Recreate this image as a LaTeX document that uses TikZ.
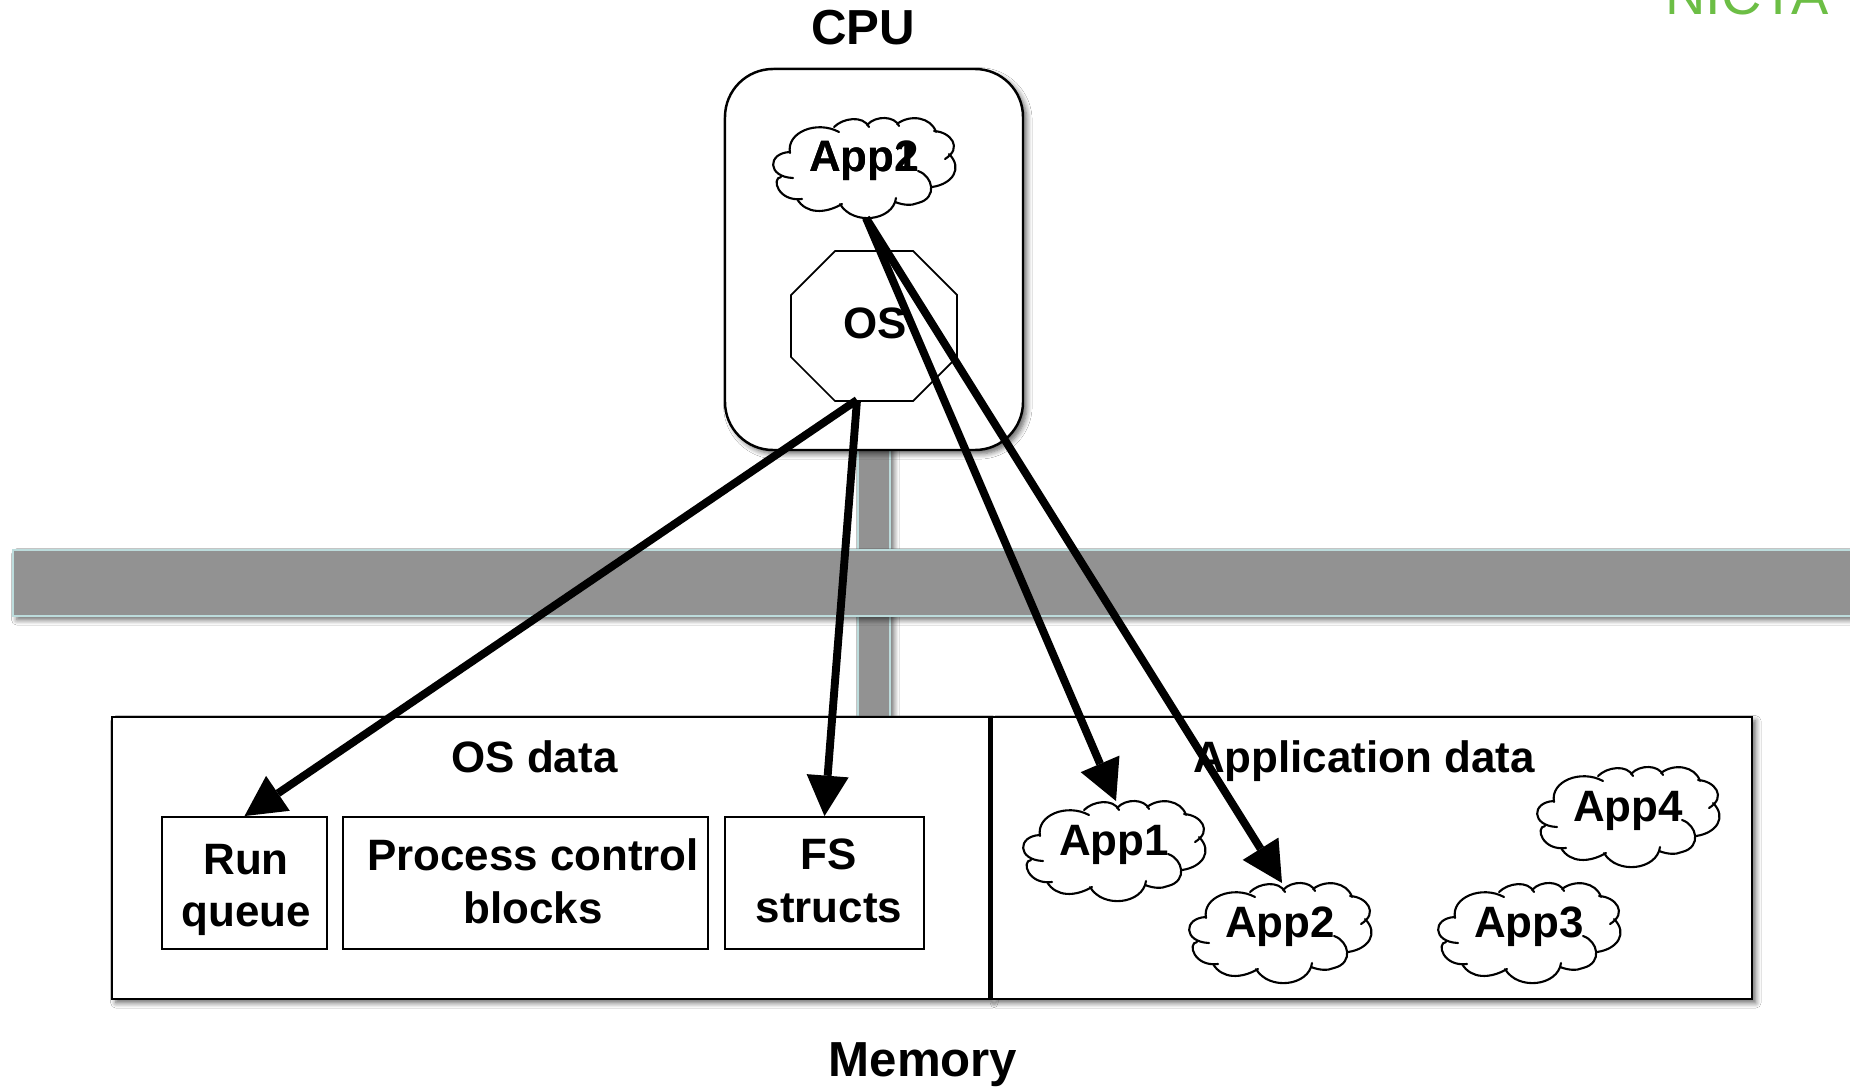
\documentclass[tikz,border=0pt]{standalone}
\usepackage{fontspec}
\setmainfont{Liberation Sans}
\usetikzlibrary{arrows.meta,shadows.blur}
\definecolor{busgrey}{HTML}{929292}
\definecolor{busedge}{HTML}{BCDCDC}
\definecolor{nictagreen}{HTML}{6CBE45}
\tikzset{
  softshadow/.style={blur shadow={shadow xshift=2.2pt,shadow yshift=-2.2pt,shadow blur steps=6,shadow blur radius=3pt,shadow opacity=60}},
  bustrack/.style={fill=busgrey,draw=busedge,line width=1.2pt,softshadow},
  membox/.style={draw,fill=white,line width=1.4pt,softshadow,inner sep=0pt},
  innerbox/.style={draw,line width=1.1pt,inner sep=0pt},
  biglabel/.style={font=\fontsize{28}{33}\selectfont\bfseries,anchor=base},
  smalllabel/.style={font=\fontsize{25}{30}\selectfont\bfseries,align=center},
  pointer/.style={line width=4.5pt,-{Triangle[length=23pt,width=24pt,fill=black,line width=0pt]}},
}
\newcommand{\appcloud}[4]{
\begin{scope}[shift={(#2,#3)}]
\draw[line width=1.2pt,line cap=round]
  (20,60) .. controls (-6,59) and (-6,35) .. (17,34)
  (17,35) .. controls (13,14) and (44,2) .. (66,14)
  (61,9) .. controls (70,0) and (90,-3) .. (96,9)
  (94,7) .. controls (103,-3) and (122,-2) .. (126,8)
  (124,6) .. controls (137,-4) and (158,-1) .. (163,14)
  (161,13) .. controls (178,14) and (190,30) .. (172,41)
  (176,36) .. controls (190,50) and (180,66) .. (159,69)
  (145,53) .. controls (160,58) and (165,80) .. (145,85)
  (145,85) .. controls (138,88) and (130,87) .. (122,84)
  (123,80) .. controls (120,103) and (80,108) .. (67,86)
  (69,86) .. controls (52,96) and (33,96) .. (24,81)
  (29,81) .. controls (5,84) and (-2,60) .. (8,59);
\coordinate (#1top) at (93,0);
\coordinate (#1bot) at (93,100);
\node[smalllabel,anchor=base] (#1) at (91,54) {#4};
\end{scope}
}
\begin{document}
\begin{tikzpicture}[x=0.02cm,y=-0.02cm]
\useasboundingbox (0,0) rectangle (1850,1088);
\clip (0,0) rectangle (1850,1088);
%\draw[step=100,gray,very thin] (0,0) grid (1850,1088);
\fill[white] (0,0) rectangle (1850,1088);
\node[anchor=base,text=nictagreen,font=\fontsize{31.8}{36}\selectfont] (nicta) at (1747,14.5) {NICTA};
\node[biglabel] (cpulabel) at (863,45) {CPU};
\node[biglabel] (memlabel) at (923,1076) {Memory};

\draw[bustrack] (858,440) rectangle (890,725);
\draw[bustrack] (13,550) rectangle (1870,616);

\draw[membox,rounded corners=9.6mm] (725,69) rectangle (1023,450);
\node[membox,minimum width=17.54cm,minimum height=5.64cm] (osmem) at (550.5,858) {};
\node[membox,minimum width=15.21cm,minimum height=5.64cm] (appmem) at (1371.7,858) {};

\node[innerbox,minimum width=3.3cm,minimum height=2.64cm] (runq) at (244.5,883) {};
\node[innerbox,minimum width=7.3cm,minimum height=2.64cm] (pcb) at (525.5,883) {};
\node[innerbox,minimum width=3.98cm,minimum height=2.64cm] (fs) at (824.5,883) {};

\node[smalllabel,anchor=base] (osdata) at (534.5,772) {OS data};
\node[smalllabel,anchor=base] (appdata) at (1364,772) {Application data};
\node[smalllabel] (runqtext) at (246,890) {Run\\queue};
\node[smalllabel] (pcbtext) at (533,881) {Process control\\blocks};
\node[smalllabel] (fstext) at (829,881) {FS\\structs};

\draw[line width=1pt] (835,251) -- (913,251) -- (957,295) -- (957,357) -- (913,401) -- (835,401) -- (791,357) -- (791,295) --cycle;
\node[smalllabel] (os) at (875,323) {OS};
\coordinate (osbot) at (857,400);

\appcloud{cpuone}{773}{118}{App1}
\node[smalllabel,anchor=base] (cputwo) at (cpuone.base) {App2};
\appcloud{appone}{1023}{801}{App1}
\appcloud{apptwo}{1189}{883}{App2}
\appcloud{appthree}{1438}{883}{App3}
\appcloud{appfour}{1537}{767}{App4}

\draw[pointer] (osbot) -- (runq.north);
\draw[pointer] (osbot) -- (fs.north);
\draw[pointer] (cpuonebot) -- (apponetop);
\draw[pointer] (cpuonebot) -- (apptwotop);
\end{tikzpicture}
\end{document}
